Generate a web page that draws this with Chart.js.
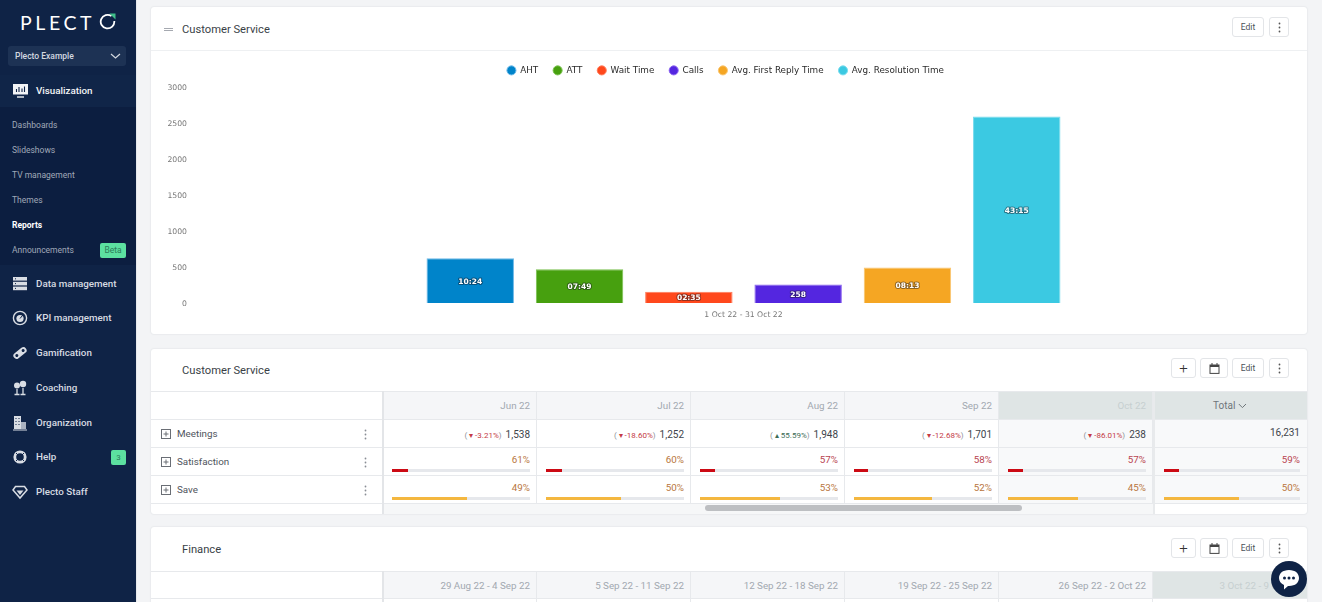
<!DOCTYPE html>
<html><head><meta charset="utf-8">
<script src="https://cdn.jsdelivr.net/npm/chart.js@4"></script>
<style>
html,body{margin:0;padding:0;width:1322px;height:602px;overflow:hidden;background:#f3f4f6;font-family:Roboto,sans-serif}
.a{position:absolute;white-space:nowrap;box-sizing:border-box}
.card{background:#fff;border-radius:3px;box-shadow:0 0 2px rgba(30,40,60,.14)}
.btn{background:#fff;border:1px solid #e3e5e8;border-radius:3px;display:flex;align-items:center;justify-content:center;color:#4a4f57;font-size:8.5px}
svg{display:block}
</style></head><body>
<div id="root"></div>
<canvas id="chart" class="a" style="left:151px;top:50px"></canvas>
<script>
// ---- chart data
const periodLabels = ['1 Oct 22 - 31 Oct 22'];
const seriesNames = ['AHT','ATT','Wait Time','Calls','Avg. First Reply Time','Avg. Resolution Time'];
const seriesValues = [624,469,155,258,493,2595];
const seriesTexts = ['10:24','07:49','02:35','258','08:13','43:15'];
const seriesColors = ['#0084ca','#47a00f','#ff481c','#5426e0','#f5a623','#3bc9e2'];
const seriesBorders = ['#6bb8e8','#79c04e','#ff7a58','#8a63f0','#f9c46e','#78dcee'];
const yMax = 3000, yStep = 500;

// ---- table data
const monthHeaders = ['Jun 22','Jul 22','Aug 22','Sep 22','Oct 22'];
const rowNames = ['Meetings','Satisfaction','Save'];
const meetingsDelta = ['-3.21%','-18.60%','55.59%','-12.68%','-86.01%'];
const meetingsValues = ['1,538','1,252','1,948','1,701','238'];
const meetingsTotal = '16,231';
const satisfactionText = [61,60,57,58,57,59];
const satisfactionFill = [0.116,0.116,0.109,0.102,0.109,0.11];
const saveText = [49,50,53,52,45,50];
const saveFill = [0.54,0.545,0.578,0.567,0.505,0.55];
const financeHeaders = ['29 Aug 22 - 4 Sep 22','5 Sep 22 - 11 Sep 22','12 Sep 22 - 18 Sep 22','19 Sep 22 - 25 Sep 22','26 Sep 22 - 2 Oct 22','3 Oct 22 - 9 Oct 22'];
const subNav = ['Dashboards','Slideshows','TV management','Themes','Reports','Announcements'];
const mainNav = ['Data management','KPI management','Gamification','Coaching','Organization','Help','Plecto Staff'];

// ---- page furniture
const root = document.getElementById('root');
function box(x,y,w,h,css,html,cls){
  const d=document.createElement('div');d.className='a '+(cls||'');
  d.style.cssText=`left:${x}px;top:${y}px;width:${w}px;height:${h}px;`+(css||'');
  if(html!==undefined)d.innerHTML=html;root.appendChild(d);return d;
}
function text(x,cy,t,css){return box(x,cy-8,300,16,'line-height:16px;'+(css||''),t);}
function rtext(r,cy,t,css){return box(r-300,cy-8,300,16,'line-height:16px;text-align:right;'+(css||''),t);}
const ink='#d9dde4', bg='#0f2346';
const st=(w)=>`fill="none" stroke="${ink}" stroke-width="${w}"`;
const icons=[
 `<rect x="1" y="1" width="14" height="3.6" fill="${ink}"/><rect x="1" y="5.8" width="14" height="3.6" fill="${ink}"/><rect x="1" y="10.6" width="14" height="3.6" fill="${ink}"/><path d="M3 2.8h1M3 7.600h1M3 12.400h1" stroke="${bg}"/>`,
 `<circle cx="8" cy="8" r="6.6" ${st(1.4)}/><circle cx="8" cy="8.500" r="3.6" fill="${ink}"/><path d="M8 8.500l2.800-3.400" stroke="${bg}"/>`,
 `<g transform="rotate(-38 8 8)"><rect x=".5" y="4.800" width="15" height="6.400" rx="3.200" fill="${ink}"/><circle cx="4" cy="8" r="1.500" fill="${bg}"/><circle cx="12" cy="8" r="1.500" fill="${bg}"/></g>`,
 `<circle cx="5" cy="5.500" r="3" fill="${ink}"/><circle cx="11" cy="4" r="3.200" fill="${ink}"/><path d="M2.500 14.500h5M8.500 14.500h5M5 9v5M11 8v6" ${st(1.3)}/>`,
 `<rect x="2" y="1" width="7" height="13" fill="${ink}"/><rect x="9" y="7" width="5" height="7" fill="#aab2c0"/><path d="M3.500 3.500h1M6.500 3.500h1M3.500 6.500h1M6.500 6.500h1M3.500 9.500h1M6.500 9.500h1" stroke="${bg}"/><path d="M1 15h14" ${st(1)}/>`,
 `<circle cx="8" cy="8" r="5.200" ${st(2.8)}/><path d="M4 4l2 2M12 4l-2 2M4 12l2-2M12 12l-2-2" stroke="${bg}"/>`,
 `<path d="M3.500 2.500h9l2.500 3.500-7 8-7-8z" ${st(1.5)}/><path d="M4.500 6.500h7L8 11z" fill="${ink}"/>`
];
// sidebar
box(0,0,136,602,'background:#0f2346');
box(136,0,1,602,'background:#e6e8eb');
box(0,107,136,158,'background:#0c1e40');
box(0,75,136,32,'background:#102548');
text(20,23,'PLECT','color:#fff;font:400 19.5px Lato,sans-serif;letter-spacing:3.6px;line-height:16px');
box(99,12,19,20,'',`<svg width="19" height="20"><path d="M12.500 4.100A6.800 6.800 0 1 0 15.300 9" fill="none" stroke="#fff" stroke-width="1.800"/><path d="M10.500 1.500h6v6z" fill="#3fbf8a"/></svg>`);
box(8,46,118,20,'background:#1d3254;border-radius:3px');
text(15,56,'Plecto Example','color:#d4d9e0;font-size:8.5px;font-weight:500');
box(110,51,11,10,'',`<svg width="11" height="10"><path d="M1 3l4.500 4L10 3" fill="none" stroke="#d4d9e0" stroke-width="1.200"/></svg>`);
box(13,84,16,14,'',`<svg width="16" height="14"><rect x="0" y="0" width="15" height="10.500" fill="#f3f4f6"/><path d="M3.500 8V5M6 8V3M9 8V4.500M11.500 8V2.500" stroke="#0f2346" stroke-width="1.100"/><path d="M4 13h7" stroke="#f3f4f6" stroke-width="1.400"/></svg>`);
text(36,91,'Visualization','color:#f4f5f7;font-size:9.8px;font-weight:500');
subNav.forEach((s,i)=>text(12,125+i*25,s,s==='Reports'?'color:#fff;font-size:8.5px;font-weight:700':'color:#a0a9b8;font-size:8.5px'));
box(100,243,26,15,'background:#5ce0a0;border-radius:2px;color:#2c7c5a;font-size:8.5px;text-align:center;line-height:15px','Beta');
box(111,450,15,15,'background:#5ce0a0;border-radius:2px;color:#2c7c5a;font-size:8px;text-align:center;line-height:15px','3');
const navY=[284,318,353,388,423,457,492];
mainNav.forEach((s,i)=>{
  text(36,navY[i],s,'color:#d7dbe2;font-size:9.8px;font-weight:500');
  box(12,navY[i]-8,16,16,'',`<svg width="16" height="16">${icons[i]}</svg>`);
});
// cards
box(151,7,1156,327,'',undefined,'card');
box(151,349,1156,165,'',undefined,'card');
box(151,527,1156,90,'',undefined,'card');
box(151,50,1156,1,'background:#eef0f2');
box(164,27.5,9,1,'background:#a5a9b0');box(164,30,9,1,'background:#a5a9b0');
const titleCss='color:#3a3f47;font-size:11.2px';
text(182,30,'Customer Service',titleCss);
text(182,371,'Customer Service',titleCss);
text(182,550,'Finance',titleCss);
const kebabOf=c=>`<svg width="3" height="11"><circle cx="1.500" cy="1.500" r=".9" fill="${c}"/><circle cx="1.500" cy="5.500" r=".9" fill="${c}"/><circle cx="1.500" cy="9.500" r=".9" fill="${c}"/></svg>`;
function buttons(y,full){
  if(full){
    box(1171,y,25,20,'font-size:15px;font-weight:300;color:#333','+','btn');
    box(1200,y,28,20,'',`<svg width="11" height="11"><rect x="1" y="2" width="9" height="8.400" fill="none" stroke="#444"/><rect x="1" y="2" width="9" height="2" fill="#444"/><path d="M3 0v2M8 0v2" stroke="#444"/></svg>`,'btn');
  }
  box(1232,y,32,20,'','Edit','btn');box(1269,y,20,20,'',kebabOf('#555'),'btn');
}
buttons(17,false);buttons(358,true);buttons(538,true);
// tables
const colL=[383,537,691,845,999,1155], colR=[537,691,845,999,1153,1307];
const lineC='#e7e9ec';
function headerRow(y,h,labels,shade){
  box(151,y,1156,1,`background:${lineC}`);
  labels.forEach((t,i)=>{
    const s=i===shade, tot=i===5&&shade===4;
    const l=(i===5&&shade===5)?1153:colL[i];
    box(l,y+1,colR[i]-l-(i<5?1:0),h-1,`background:${s||tot?'#dfe5e5':'#f5f6f8'}`);
    if(tot)return;
    rtext(colR[i]-7,y+h/2+1,t,`font-size:9.8px;color:${s?'#c6cfd0':'#a2a8b0'}`);
  });
}
headerRow(391,28,monthHeaders.concat(['']),4);
box(1213,399,52,14,'font-size:10px;color:#6f767b;line-height:14px;text-align:left','Total <svg style="display:inline" width="9" height="6"><path d="M.8 1l3.600 3.600L8 1" fill="none" stroke="#6f767b"/></svg>');
const rowY=[419,447,475];
box(999,420,154,83,'background:#f8f9fa');box(1155,420,152,83,'background:#f8f9fa');
rowY.concat([503]).forEach(y=>box(151,y,1156,1,`background:${lineC}`));
box(383,504,770,10,'background:#f6f7f8');
box(705,505,317,6,'background:#bdbfc2;border-radius:3px');
colR.slice(0,5).forEach(x=>box(x-1,391,1,112,`background:${lineC}`));
box(382,391,2,123,'background:#e3e5e8');box(1153,391,2,123,'background:#e8eaec');
rowNames.forEach((n,i)=>{
  const cy=rowY[i]+14.5;
  box(161,cy-4.5,10,10,'',`<svg width="10" height="10"><rect x=".5" y=".5" width="9" height="9" fill="none" stroke="#6a6e75"/><path d="M2.500 5h5M5 2.500v5" stroke="#6a6e75"/></svg>`);
  text(177,cy+.5,n,'color:#50555d;font-size:9.8px');
  box(364,cy-5,3,11,'',kebabOf('#8a8e95'));
});
monthHeaders.forEach((m,i)=>{
  const up=meetingsDelta[i][0]!=='-';
  const col=up?'#3a6b55':'#c43a45';
  const tri=up?'&#9652;':'&#9662;';
  rtext(colR[i]-7,433,`<span style="font-size:8px;color:#8b9097">( <span style="color:${col}">${tri}</span> <span style="color:${col}">${meetingsDelta[i]}</span>)</span> <span style="font-size:10px;color:#40444b">${meetingsValues[i]}</span>`);
});
rtext(1300,433,meetingsTotal,'font-size:10px;color:#40444b');
function pctRow(y,vals,fills,barCol,colorOf){
  vals.forEach((v,i)=>{
    const r=colR[i]-7;
    rtext(r,y+13,v+'%',`font-size:9.8px;color:${colorOf(v)}`);
    const l=colL[i]+9, w=r-l;
    box(l,y+22,w,3,'background:#e6e8ec');
    box(l,y+22,w*fills[i],3,`background:${barCol}`);
  });
}
pctRow(447,satisfactionText,satisfactionFill,'#cc0a14',v=>v>=60?'#b8753d':'#b8434f');
pctRow(475,saveText,saveFill,'#f4b73f',()=>'#b8753d');
headerRow(571,27,financeHeaders,5);
box(151,598,1156,1,`background:${lineC}`);
colR.slice(0,5).forEach(x=>box(x-1,571,1,40,`background:${lineC}`));
box(382,571,2,40,'background:#e3e5e8');
box(1271,561,36,36,'background:#0f2346;border-radius:50%;z-index:5',`<svg width="36" height="36"><path d="M18 9c6.500 0 10 3.600 10 8s-3.500 8-10 8h-1l-4 3.600v-4.600c-3-1.300-5-3.800-5-7 0-4.400 3.500-8 10-8z" fill="#fff"/><circle cx="13.500" cy="17" r="1.500" fill="#0f2346"/><circle cx="18" cy="17" r="1.500" fill="#0f2346"/><circle cx="22.500" cy="17" r="1.500" fill="#0f2346"/></svg>`);

// ---- chart
const cv=document.getElementById('chart');
cv.width=1156;cv.height=285;cv.style.width='1156px';cv.style.height='285px';
const chartFont='"DejaVu Sans",sans-serif';
const barLabels={id:'barLabels',afterDatasetsDraw(c){
  const g=c.ctx;g.save();g.font='bold 7.5px '+chartFont;g.textAlign='center';g.textBaseline='middle';
  c.data.datasets.forEach((d,i)=>{
    const b=c.getDatasetMeta(i).data[0];
    const y=(b.y+b.base)/2+1;
    g.lineWidth=2;g.strokeStyle='rgba(20,20,30,.45)';g.lineJoin='round';
    g.strokeText(seriesTexts[i],b.x,y);
    g.fillStyle='#fff';g.fillText(seriesTexts[i],b.x,y);
  });g.restore();
}};
const fixLegend={id:'fixLegend',beforeInit(c){
  const f=c.legend.fit;c.legend.fit=function(){f.call(this);this.height=36.5;};
}};
new Chart(cv,{
  type:'bar',
  data:{labels:periodLabels,datasets:seriesNames.map((n,i)=>({
    label:n,data:[seriesValues[i]],backgroundColor:seriesColors[i],borderColor:seriesBorders[i],borderWidth:1
  }))},
  options:{
    responsive:false,animation:false,devicePixelRatio:1,
    categoryPercentage:0.6,barPercentage:0.8,
    layout:{padding:{top:1,left:10,right:17}},
    plugins:{
      legend:{position:'top',labels:{usePointStyle:true,pointStyle:'circle',boxWidth:9,boxHeight:6.4,padding:15,color:'#2b2b2b',font:{family:chartFont,size:8.8}}},
      tooltip:{enabled:false}
    },
    scales:{
      x:{grid:{display:false,drawTicks:false},border:{display:false},afterFit(s){s.height=32;},
         ticks:{color:'#777',padding:7,font:{family:chartFont,size:7.7}}},
      y:{min:0,max:yMax,grid:{display:false,drawTicks:false},border:{display:false},afterFit(s){s.width=36;},
         ticks:{stepSize:yStep,color:'#777',padding:10,labelOffset:1,callback:v=>String(v),font:{family:chartFont,size:7.7}}}
    }
  },
  plugins:[barLabels,fixLegend]
});
</script></body></html>
